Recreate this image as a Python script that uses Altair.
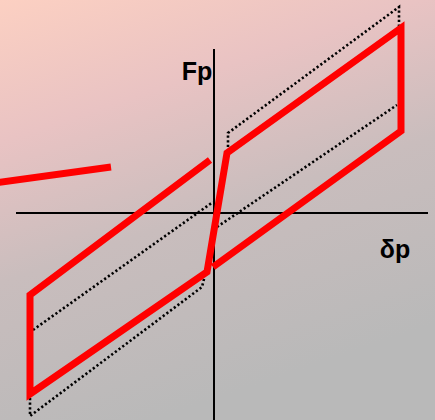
import altair as alt
import pandas as pd

# Hysteresis loop of the plastic hinge: force Fp vs deformation δp
loop_x = [-0.4, -18.4, -18.4, -0.7, 1.3, 18.7, 18.7, -0.1]
loop_y = [5.3, -8.2, -18.1, -5.9, 6.0, 18.5, 8.2, -5.4]

stray_x = [-22.0, -10.3]
stray_y = [3.0, 4.6]

# dotted envelope and unloading branches
outer_upper_x = [1.4, 1.4, 18.5, 18.5]
outer_upper_y = [6.6, 8.0, 20.6, 18.6]
outer_lower_x = [-18.4, -18.4, -1.2, -0.9]
outer_lower_y = [-18.5, -20.3, -7.4, -6.2]
inner_left_x = [-18.1, -0.1]
inner_left_y = [-11.7, 1.1]
inner_right_x = [0.3, 18.3]
inner_right_y = [-1.4, 10.8]

labels = ["Fp", "δp"]
label_x = [-1.7, 18.1]
label_y = [13.3, -4.5]

W, H = 435, 420
XD = [-21.4, 22.1]
YD = [-20.7, 21.3]


def path_frame(paths):
    rows = []
    for name, xs, ys in paths:
        for i, (x, y) in enumerate(zip(xs, ys)):
            rows.append({"path": name, "i": i, "x": x, "y": y})
    return pd.DataFrame(rows)


xs = alt.Scale(domain=XD, nice=False, zero=False)
ys = alt.Scale(domain=YD, nice=False, zero=False)

bg = alt.Chart(pd.DataFrame({"a": [0]})).mark_rect(
    color=alt.Gradient(
        gradient="linear",
        x1=0, y1=0, x2=0.35, y2=1,
        stops=[
            alt.GradientStop(color="#fcd0c2", offset=0),
            alt.GradientStop(color="#e9c3c3", offset=0.3),
            alt.GradientStop(color="#c9bdbd", offset=0.6),
            alt.GradientStop(color="#b9b9b9", offset=1),
        ],
    )
).encode(x=alt.value(0), x2=alt.value(W), y=alt.value(0), y2=alt.value(H))

axes_df = pd.DataFrame({
    "x": [0.0, -19.8], "x2": [0.0, 21.4],
    "y": [16.4, 0.0], "y2": [-20.7, 0.0],
})
axes = alt.Chart(axes_df).mark_rule(color="black", strokeWidth=2).encode(
    x=alt.X("x:Q", scale=xs, axis=None),
    x2="x2:Q",
    y=alt.Y("y:Q", scale=ys, axis=None),
    y2="y2:Q",
)

dotted_df = path_frame([
    ("upper", outer_upper_x, outer_upper_y),
    ("lower", outer_lower_x, outer_lower_y),
    ("inner_left", inner_left_x, inner_left_y),
    ("inner_right", inner_right_x, inner_right_y),
])
dotted = alt.Chart(dotted_df).mark_line(
    color="black", strokeWidth=2.6, strokeDash=[2.2, 2.4], strokeCap="butt"
).encode(
    x=alt.X("x:Q", scale=xs, axis=None),
    y=alt.Y("y:Q", scale=ys, axis=None),
    detail="path:N",
    order="i:Q",
)

red_df = path_frame([
    ("loop", loop_x, loop_y),
    ("stray", stray_x, stray_y),
])
red = alt.Chart(red_df).mark_line(
    color="#ff0000", strokeWidth=7, strokeCap="butt", strokeJoin="miter", clip=True
).encode(
    x=alt.X("x:Q", scale=xs, axis=None),
    y=alt.Y("y:Q", scale=ys, axis=None),
    detail="path:N",
    order="i:Q",
)

text_df = pd.DataFrame({"t": labels, "x": label_x, "y": label_y})
text = alt.Chart(text_df).mark_text(
    font="Liberation Sans", fontWeight="bold", fontSize=25,
    color="black", align="center", baseline="alphabetic"
).encode(
    x=alt.X("x:Q", scale=xs, axis=None),
    y=alt.Y("y:Q", scale=ys, axis=None),
    text="t:N",
)

chart = alt.layer(bg, axes, dotted, red, text).properties(
    width=W, height=H, padding=0, autosize="none"
).configure_view(stroke=None)

chart.save("out.html", embed_options={"renderer": "svg", "actions": False})
